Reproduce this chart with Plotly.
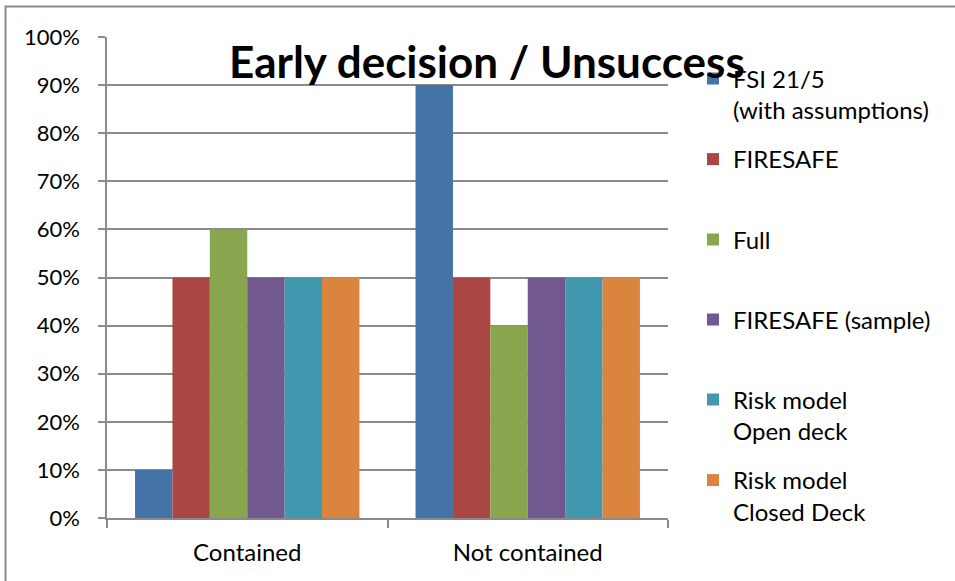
import plotly.graph_objects as go

# Chart data
categories = ["Contained", "Not contained"]
series_names = [
    "FSI 21/5<br>(with assumptions)",
    "FIRESAFE",
    "Full",
    "FIRESAFE (sample)",
    "Risk model<br>Open deck",
    "Risk model<br>Closed Deck",
]
series_values = [
    [10, 90],
    [50, 50],
    [60, 40],
    [50, 50],
    [50, 50],
    [50, 50],
]
tick_vals = list(range(0, 101, 10))
tick_text = [f"{v}%" for v in tick_vals]
title_text = "Early decision / Unsuccess"

colors = ["#4572A7", "#AA4643", "#89A54E", "#71588F", "#4198AF", "#DB843D"]

W, H = 955, 581
L, R, T, B = 107, 668, 37, 518  # plot area edges in pixels
FONT = "Lato"
GRID = "#8a8a8a"


def px_x(x):
    return (x - L) / (R - L)


def px_y(y):
    return (B - y) / (B - T)


fig = go.Figure()
legend_centres = [79, 159.5, 240, 320, 400, 480.5]
for i, (name, vals) in enumerate(zip(series_names, series_values)):
    key = "legend" if i == 0 else f"legend{i + 1}"
    fig.add_trace(go.Bar(
        x=categories, y=vals, name=name,
        marker=dict(color=colors[i], line=dict(width=0)),
        legend=key,
    ))
    fig.update_layout({key: dict(
        x=px_x(693), y=px_y(legend_centres[i] - 22.5),
        xanchor="left", yanchor="top",
        valign="top", bgcolor="rgba(0,0,0,0)",
        font=dict(family=FONT, size=24, color="#000000"),
        itemclick=False,
    )})

fig.update_layout(
    width=W, height=H,
    margin=dict(l=L, r=W - R, t=T, b=H - B),
    paper_bgcolor="white", plot_bgcolor="white",
    barmode="group", bargap=0.2, bargroupgap=0,
    showlegend=True,
    font=dict(family=FONT, color="#000000"),
    xaxis=dict(
        type="category", showline=True, linecolor=GRID, linewidth=1.5,
        ticks="outside", tickson="boundaries", ticklen=8, tickcolor=GRID, tickwidth=1.5,
        tickfont=dict(family=FONT, size=24), showgrid=False, ticklabelstandoff=12,
    ),
    yaxis=dict(
        range=[0, 100], tickvals=tick_vals, ticktext=tick_text,
        showline=True, linecolor=GRID, linewidth=1.5,
        ticks="outside", ticklen=7, tickcolor=GRID, tickwidth=1.5,
        showgrid=True, gridcolor=GRID, gridwidth=1.5,
        tickfont=dict(family=FONT, size=22), zeroline=False,
        ticklabelstandoff=14,
    ),
    annotations=[dict(
        text="<b>" + title_text + "</b>", xref="paper", yref="paper",
        x=px_x(487), y=px_y(61), xanchor="center", yanchor="middle",
        showarrow=False, font=dict(family=FONT, size=44, color="#000000"),
    )],
    shapes=[dict(
        type="rect", xref="paper", yref="paper",
        x0=px_x(5.5), x1=px_x(970), y0=px_y(6.5), y1=px_y(600),
        line=dict(color="#8a8a8a", width=2), fillcolor="rgba(0,0,0,0)",
        layer="below",
    )],
)

fig.write_html("out.html")
